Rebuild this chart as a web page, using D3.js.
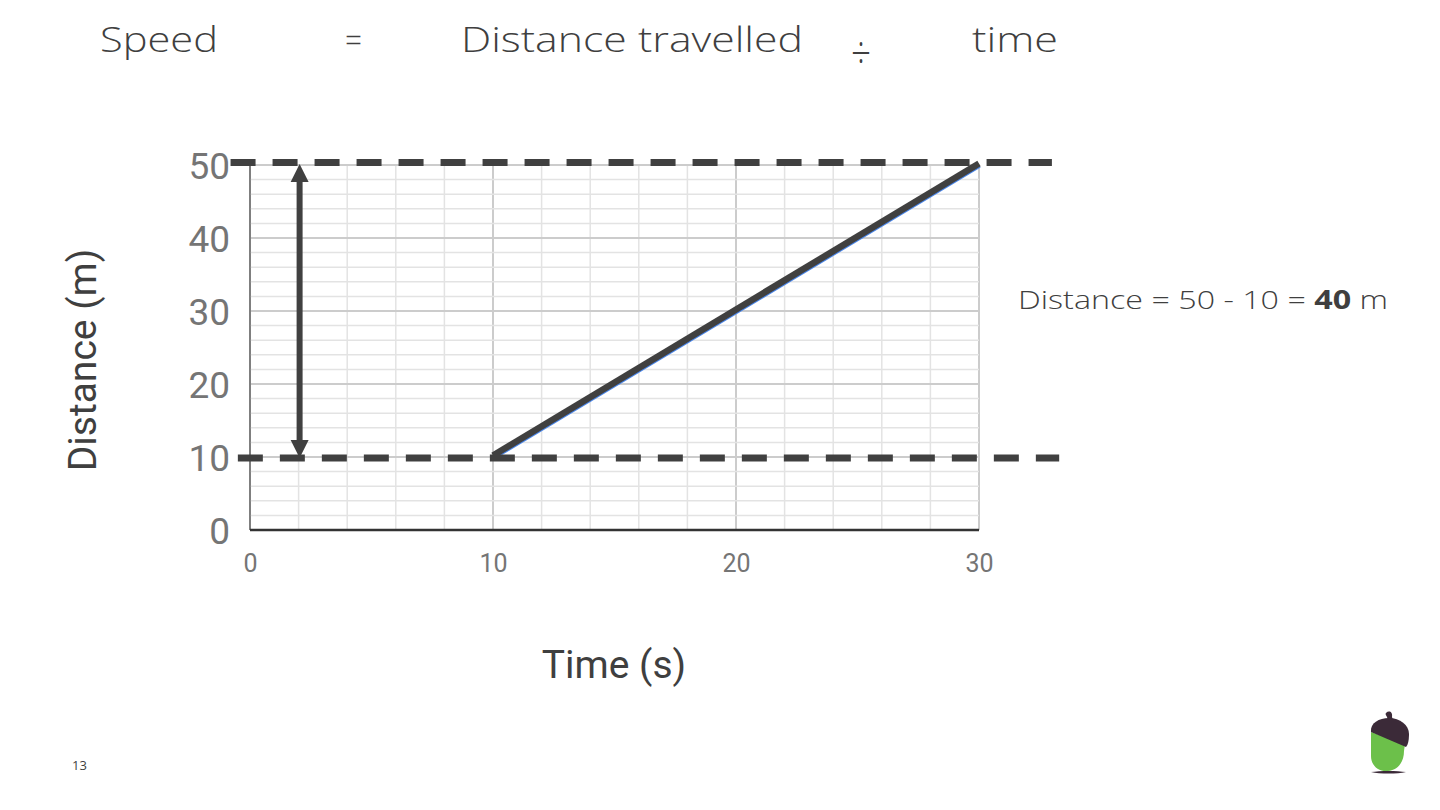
<!DOCTYPE html>
<html>
<head>
<meta charset="utf-8">
<script src="https://cdn.jsdelivr.net/npm/d3@7"></script>
<style>
  html, body { margin: 0; padding: 0; background: #fff; }
  svg { display: block; }
</style>
</head>
<body>
<svg id="chart" width="1440" height="810"></svg>
<script>
// ---- data ----
const xTicks = [0, 10, 20, 30];
const yTicks = [0, 10, 20, 30, 40, 50];
const seriesTime = [10, 30];
const seriesDistance = [10, 50];
const refLevels = [50, 10];
const refStart = [-0.8, -0.5];
const refEnd = [33.0, 33.3];
const arrowTime = 2;
const arrowRange = [10, 50];
const titleWords = ["Speed", "=", "Distance travelled", "÷", "time"];
const xTitle = "Time (s)";
const yTitle = "Distance (m)";
const noteParts = ["Distance = 50 - 10 = ", "40", " m"];
const pageNumber = "13";

// ---- layout ----
const svg = d3.select("#chart");
const x = d3.scaleLinear().domain([0, 30]).range([250, 979]);
const y = d3.scaleLinear().domain([0, 50]).range([530, 165]);

// title row
const titleFont = "'Open Sans', 'Noto Sans', sans-serif";
const titlePos = [
  {x: 100, len: 118, y: 52, fs: 35},
  {x: 345, len: 17, y: 52, fs: 35},
  {x: 461, len: 342, y: 52, fs: 35},
  {x: 851, len: 20, y: 70, fs: 48},
  {x: 972, len: 86, y: 52, fs: 35}
];
svg.append("g").selectAll("text").data(titleWords).join("text")
  .attr("x", (d, i) => titlePos[i].x)
  .attr("y", (d, i) => titlePos[i].y)
  .attr("textLength", (d, i) => titlePos[i].len)
  .attr("lengthAdjust", "spacingAndGlyphs")
  .attr("font-family", titleFont)
  .attr("font-weight", 300)
  .attr("font-size", (d, i) => titlePos[i].fs)
  .attr("fill", "#3f3f3f")
  .text(d => d);

// grid
const grid = svg.append("g");
const minorX = d3.range(0, 31, 2);
const minorY = d3.range(0, 51, 2);
grid.selectAll(".vx").data(minorX).join("line")
  .attr("x1", d => x(d)).attr("x2", d => x(d))
  .attr("y1", y(50)).attr("y2", y(0))
  .attr("stroke", d => d % 10 === 0 ? "#cccccc" : "#e3e3e3")
  .attr("stroke-width", d => d % 10 === 0 ? 2 : 1.5);
grid.selectAll(".hy").data(minorY).join("line")
  .attr("y1", d => y(d)).attr("y2", d => y(d))
  .attr("x1", x(0)).attr("x2", x(30))
  .attr("stroke", d => d % 10 === 0 ? "#cccccc" : "#e3e3e3")
  .attr("stroke-width", d => d % 10 === 0 ? 2 : 1.5);

// axes lines
svg.append("line")
  .attr("x1", x(0)).attr("x2", x(0)).attr("y1", y(50)).attr("y2", y(0))
  .attr("stroke", "#333").attr("stroke-width", 1);
svg.append("line")
  .attr("x1", x(0)).attr("x2", x(30)).attr("y1", y(0)).attr("y2", y(0))
  .attr("stroke", "#333").attr("stroke-width", 2.5);

// y tick labels
const yAxis = svg.append("g")
  .attr("transform", `translate(${x(0) - 20},0)`)
  .call(d3.axisLeft(y).tickValues(yTicks).tickSize(0).tickPadding(0));
yAxis.select(".domain").remove();
yAxis.selectAll("text")
  .attr("font-family", "Roboto, sans-serif")
  .attr("font-size", 37)
  .attr("fill", "#757575")
  .attr("dy", "0.36em");

// x tick labels
const xAxis = svg.append("g")
  .attr("transform", `translate(0,${y(0) + 24})`)
  .call(d3.axisBottom(x).tickValues(xTicks).tickSize(0).tickPadding(0));
xAxis.select(".domain").remove();
xAxis.selectAll("text")
  .attr("font-family", "Roboto, sans-serif")
  .attr("font-size", 25)
  .attr("fill", "#757575")
  .attr("dy", "0.71em");

// axis titles
svg.append("text")
  .attr("x", 614).attr("y", 678)
  .attr("text-anchor", "middle")
  .attr("font-family", "Roboto, sans-serif")
  .attr("font-size", 39)
  .attr("fill", "#3f3f3f")
  .text(xTitle);
svg.append("text")
  .attr("transform", "translate(96,360) rotate(-90)")
  .attr("text-anchor", "middle")
  .attr("font-family", "Roboto, sans-serif")
  .attr("font-size", 39)
  .attr("fill", "#3f3f3f")
  .text(yTitle);

// series line (blue) + overlay (dark)
const pts = seriesTime.map((t, i) => [t, seriesDistance[i]]);
const line = d3.line().x(d => x(d[0])).y(d => y(d[1]));
svg.append("path").attr("d", line(pts))
  .attr("fill", "none").attr("stroke", "#4a86e8").attr("stroke-width", 2.5)
  .attr("transform", "translate(1,1.5)");
svg.append("path").attr("d", line(pts))
  .attr("fill", "none").attr("stroke", "#404040").attr("stroke-width", 6.5)
  .attr("transform", "translate(0,-1.5)");

// dashed reference lines
svg.append("g").selectAll("line").data(refLevels).join("line")
  .attr("x1", (d, i) => x(refStart[i]))
  .attr("x2", (d, i) => x(refEnd[i]))
  .attr("y1", d => y(d) - (d === 50 ? 2.5 : -1))
  .attr("y2", d => y(d) - (d === 50 ? 2.5 : -1))
  .attr("stroke", "#404040")
  .attr("stroke-width", 7)
  .attr("stroke-dasharray", "25 17");

// double arrow
const ax = x(arrowTime) + 1;
const topY = y(arrowRange[1]) - 1;
const botY = y(arrowRange[0]) + 1;
const headH = 18, headW = 9;
svg.append("line")
  .attr("x1", ax).attr("x2", ax)
  .attr("y1", topY + headH - 2).attr("y2", botY - headH + 2)
  .attr("stroke", "#404040").attr("stroke-width", 6);
svg.append("path")
  .attr("d", `M${ax},${topY} L${ax - headW},${topY + headH} L${ax + headW},${topY + headH} Z`)
  .attr("fill", "#404040");
svg.append("path")
  .attr("d", `M${ax},${botY} L${ax - headW},${botY - headH} L${ax + headW},${botY - headH} Z`)
  .attr("fill", "#404040");

// annotation
const note = svg.append("text")
  .attr("x", 1018).attr("y", 309)
  .attr("font-family", titleFont)
  .attr("font-size", 26)
  .attr("fill", "#3f3f3f")
  .attr("textLength", 370)
  .attr("lengthAdjust", "spacingAndGlyphs");
note.selectAll("tspan").data(noteParts).join("tspan")
  .attr("font-weight", (d, i) => i === 1 ? 700 : 300)
  .text(d => d);

// page number
svg.append("text")
  .attr("x", 72).attr("y", 770)
  .attr("font-family", titleFont)
  .attr("font-size", 13)
  .attr("fill", "#3f3f3f")
  .text(pageNumber);

// acorn logo
const logo = svg.append("g");
logo.append("path")
  .attr("d", "M1386,713 C1389,710 1393,712 1392,717 L1394,723 L1389,724 L1387,717 C1386,715 1385,714 1386,713 Z")
  .attr("fill", "#3b2a38");
logo.append("path")
  .attr("d", "M1371,732 L1371,756 C1371,766 1379,772 1388,771 C1398,770 1404,762 1404,751 L1405,744 Z")
  .attr("fill", "#6cc04a");
logo.append("path")
  .attr("d", "M1371,732 C1370,723 1379,718 1389,718 C1400,718 1409,725 1409,734 C1409,740 1408,745 1406,747 Z")
  .attr("fill", "#3b2a38");
logo.append("path")
  .attr("d", "M1371,772 C1380,770.5 1397,770.5 1406,772 C1397,774 1380,774 1371,772 Z")
  .attr("fill", "#3b2a38");
</script>
</body>
</html>
